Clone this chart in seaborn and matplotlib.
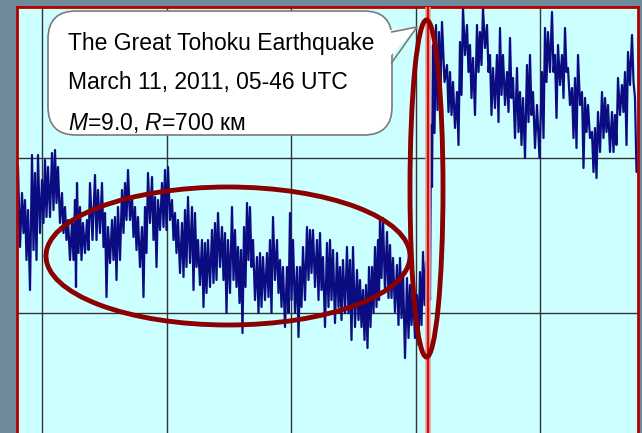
import matplotlib
matplotlib.use("Agg")
import numpy as np
import pandas as pd
import seaborn as sns
import matplotlib.pyplot as plt
from matplotlib.patches import Ellipse, FancyBboxPatch, Polygon
from matplotlib.ticker import MultipleLocator
from matplotlib import font_manager

sns.set_style("white")

# time (arbitrary sample units, grid every 124.5) and upper / lower envelope of the noisy record
t = [-24, -20, -17, -14, -10, -7, -4, 0, 3, 6, 10, 13, 16, 20, 23, 26, 30, 33, 35, 38,
     41, 45, 48, 53, 56, 60, 63, 66, 70, 73, 76, 80, 83, 86, 90, 93, 96, 100, 103, 106,
     110, 113, 116, 120, 123, 126, 130, 133, 136, 140, 143, 146, 150, 153, 156, 160, 163, 166, 170, 173,
     176, 180, 183, 186, 190, 193, 196, 199, 202, 205, 208, 211, 215, 218, 221, 225, 228, 231, 235, 238,
     241, 245, 248, 251, 255, 258, 261, 265, 268, 271, 275, 278, 281, 285, 288, 291, 295, 298, 301, 305,
     308, 311, 315, 318, 321, 324, 327, 330, 333, 336, 338, 341, 345, 348, 351, 355, 358, 361, 365, 368,
     371, 375, 378, 381, 384, 387, 389, 391, 394, 397, 400, 405, 408, 411, 415, 418, 421, 425, 428, 431,
     435, 438, 441, 445, 448, 451, 455, 458, 461, 465, 468, 471, 475, 478, 481, 485, 488, 491, 495, 500,
     503, 506, 510, 513, 516, 520, 523, 526, 530, 533, 536, 540, 543, 546, 550, 553, 556, 560, 563, 566,
     570, 573, 576, 580, 583, 586, 590, 593]
hi = [146, 120, 113, 103, 158, 140, 158, 133, 153, 146, 160, 163, 146, 120, 106, 93, 90, 113, 130, 106,
      90, 93, 130, 138, 123, 130, 100, 86, 93, 96, 106, 123, 130, 143, 116, 106, 96, 86, 106, 140,
      136, 116, 113, 130, 143, 146, 113, 100, 93, 90, 103, 116, 106, 100, 73, 73, 70, 73, 83, 90,
      100, 86, 80, 73, 106, 83, 66, 63, 86, 110, 106, 73, 56, 60, 56, 60, 73, 96, 73, 53,
      46, 46, 100, 73, 46, 46, 66, 86, 83, 83, 73, 80, 56, 70, 73, 63, 60, 46, 53, 66,
      53, 66, 43, 33, 23, 28, 46, 46, 66, 73, 95, 95, 81, 68, 55, 48, 55, 41, 35, 28,
      21, 18, 41, 61, 51, 73, 188, 268, 288, 281, 291, 248, 241, 231, 221, 271, 305, 288, 268, 255,
      288, 281, 305, 288, 258, 245, 258, 285, 258, 241, 275, 235, 245, 221, 215, 248, 258, 221, 208, 241,
      285, 281, 301, 258, 268, 258, 285, 245, 225, 235, 258, 221, 215, 208, 181, 185, 201, 221, 215, 208,
      201, 198, 235, 228, 241, 261, 278, 215]
lo = [66, 80, 53, 23, 63, 53, 80, 90, 96, 96, 103, 110, 90, 80, 73, 53, 53, 26, 60, 53,
      60, 63, 73, 73, 80, 66, 16, 50, 53, 33, 53, 80, 93, 93, 76, 63, 46, 16, 60, 90,
      73, 46, 83, 86, 83, 93, 73, 60, 40, 36, 46, 50, 23, 46, 28, 6, 20, 26, 30, 33,
      46, 33, 0, 20, 33, 26, 10, -20, 26, 53, 46, 13, 0, 6, 13, 16, 0, 33, 20, 6,
      -14, 0, 13, 0, -24, 6, 13, 33, 40, 26, 13, 23, -14, 6, 13, -10, 6, -7, 0, 0,
      -27, -14, -7, -14, -27, -35, -14, 0, 6, 13, 35, 21, 15, 15, 1, -12, -5, -45, -25, -12,
      -25, -32, -12, 8, 21, 13, 126, 180, 203, 221, 231, 201, 198, 185, 168, 218, 258, 241, 215, 198,
      241, 248, 265, 241, 198, 205, 191, 218, 208, 201, 215, 175, 181, 168, 155, 191, 198, 165, 155, 175,
      231, 241, 241, 195, 228, 215, 241, 208, 175, 165, 208, 145, 181, 175, 141, 135, 161, 175, 181, 161,
      161, 168, 198, 201, 168, 228, 231, 141]

event_time = 386
title_lines = ["The Great Tohoku Earthquake", "March 11, 2011, 05-46 UTC", r"$M$=9.0, $R$=700 км"]

# build the dense trace: alternate upper and lower envelope values
xs, ys = [], []
for i in range(len(t)):
    xs.append(t[i]); ys.append(hi[i])
    nxt = t[i + 1] if i + 1 < len(t) else t[i] + 3
    xs.append((t[i] + nxt) / 2); ys.append(lo[i])
df = pd.DataFrame({"time": xs, "level": ys})

names = {f.name for f in font_manager.fontManager.ttflist}
if "Liberation Sans Narrow" in names:
    fam, fsize = "Liberation Sans Narrow", 19.8
else:
    fam, fsize = "Liberation Sans", 16.5
plt.rcParams["mathtext.fontset"] = "custom"
plt.rcParams["mathtext.it"] = fam + ":italic"
plt.rcParams["mathtext.rm"] = fam
plt.rcParams["font.family"] = [fam, "DejaVu Sans"]

fig = plt.figure(figsize=(6.42, 4.33), dpi=100, facecolor="#6f8b99")
ax = fig.add_axes([17 / 642, 0, 621 / 642, 426 / 433])
ax.set_facecolor("#ccffff")

sns.lineplot(data=df, x="time", y="level", sort=False, estimator=None,
             color="#0c0c82", lw=1.6, ax=ax, zorder=2)

ax.set_xlim(-25, 596)
ax.set_ylim(-120, 306)
ax.xaxis.set_major_locator(MultipleLocator(124.5))
ax.yaxis.set_major_locator(MultipleLocator(155))
ax.grid(True, color="#333333", lw=1.0)
ax.set_axisbelow(True)
ax.tick_params(length=0, labelbottom=False, labelleft=False)
ax.set_xlabel("")
ax.set_ylabel("")
for s in ["top", "left", "right"]:
    ax.spines[s].set_color("#b00000")
    ax.spines[s].set_linewidth(2)
ax.spines["bottom"].set_visible(False)

ax.axvline(event_time, color="#f29a9a", lw=4, zorder=3)
ax.axvline(event_time, color="#cc1111", lw=1.6, zorder=3.1)

ax.add_patch(Ellipse((186, 57), 364, 138, fill=False, ec="#8b0000", lw=3.5, zorder=5))
ax.add_patch(Ellipse((384.5, 124.5), 33, 337, fill=False, ec="#8b0000", lw=3.5, zorder=5))

# callout bubble
box = FancyBboxPatch((6, 178), 344, 124, boxstyle="round,pad=0,rounding_size=28",
                     fc="white", ec="#7a7a7a", lw=1.2, zorder=6)
ax.add_patch(box)
ax.add_patch(Polygon([(340, 282), (375, 286), (340, 248)], closed=True,
                     fc="white", ec="none", zorder=6.1))
ax.plot([349.5, 375, 349.5], [281, 286, 250], color="#7a7a7a", lw=1.2, zorder=6.2)

for txt, y in zip(title_lines, [263, 224, 183]):
    ax.text(26, y, txt, fontsize=fsize, color="black", va="baseline", ha="left",
            family=[fam, "DejaVu Sans"], zorder=7)

fig.savefig("out.png", dpi=100, facecolor=fig.get_facecolor())
